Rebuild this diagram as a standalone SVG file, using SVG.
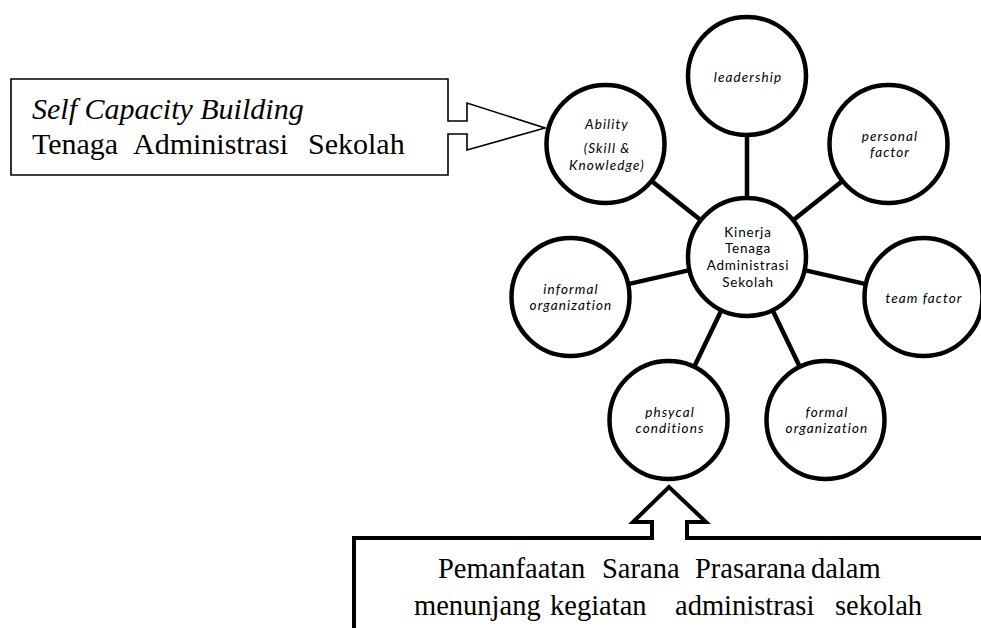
<svg xmlns="http://www.w3.org/2000/svg" width="981" height="628" viewBox="0 0 981 628">
<style>
.bg{fill:#fff}
.node circle{fill:#fff;stroke:#000;stroke-width:4.5}
.lbl{font-family:Lato,"Liberation Sans",sans-serif;font-size:13.5px;letter-spacing:1.1px;font-style:italic;text-anchor:middle;fill:#000}
.lblc{font-family:Lato,"Liberation Sans",sans-serif;font-size:13.5px;letter-spacing:0.8px;text-anchor:middle;fill:#000}
.conn line{stroke:#000;stroke-width:4.5}
.times{font-family:"Liberation Serif","Times New Roman",serif;font-size:28.5px;fill:#000}
.times2{font-family:"Liberation Serif","Times New Roman",serif;font-size:30px;fill:#000}
</style>
<rect class="bg" x="0" y="0" width="981" height="628"/>

<g id="connectors" class="conn">
<line x1="747" y1="198" x2="747" y2="135"/>
<line x1="793.1" y1="220.2" x2="842.4" y2="180.9"/>
<line x1="804.5" y1="270.1" x2="865.9" y2="284.1"/>
<line x1="772.6" y1="310.2" x2="799.9" y2="366.9"/>
<line x1="721.4" y1="310.2" x2="694.1" y2="366.9"/>
<line x1="689.5" y1="270.1" x2="628.1" y2="284.1"/>
<line x1="700.9" y1="220.2" x2="651.6" y2="180.9"/>
</g>

<g id="center" class="node">
<circle cx="747" cy="257" r="59"/>
<text class="lblc" x="748" y="237">Kinerja</text>
<text class="lblc" x="748" y="253">Tenaga</text>
<text class="lblc" x="748" y="270">Administrasi</text>
<text class="lblc" x="748" y="287">Sekolah</text>
</g>

<g id="leadership" class="node">
<circle cx="747" cy="76" r="59"/>
<text class="lbl" x="748" y="82">leadership</text>
</g>

<g id="personal" class="node">
<circle cx="888.5" cy="144" r="59"/>
<text class="lbl" x="890" y="141">personal</text>
<text class="lbl" x="890" y="157">factor</text>
</g>

<g id="team" class="node">
<circle cx="923.5" cy="297" r="59"/>
<text class="lbl" x="924" y="303">team factor</text>
</g>

<g id="formal" class="node">
<circle cx="825.5" cy="420" r="59"/>
<text class="lbl" x="827" y="417">formal</text>
<text class="lbl" x="827" y="433">organization</text>
</g>

<g id="physical" class="node">
<circle cx="668.5" cy="420" r="59"/>
<text class="lbl" x="670" y="417">phsycal</text>
<text class="lbl" x="670" y="433">conditions</text>
</g>

<g id="informal" class="node">
<circle cx="570.5" cy="297" r="59"/>
<text class="lbl" x="571" y="294">informal</text>
<text class="lbl" x="571" y="310">organization</text>
</g>

<g id="ability" class="node">
<circle cx="605.5" cy="144" r="59"/>
<text class="lbl" x="607" y="129">Ability</text>
<text class="lbl" x="607" y="153">(Skill &amp;</text>
<text class="lbl" x="607" y="170">Knowledge)</text>
</g>

<g id="self-capacity">
<path d="M448 121 V79 H11 V175 H448 V134 H467 V150 L545 128 L467 103 V121 Z" fill="#fff" stroke="#000" stroke-width="1.6" stroke-linejoin="miter"/>
<text class="times2" x="32" y="119" font-style="italic">Self Capacity Building</text>
<text class="times2" y="154"><tspan x="32">Tenaga</tspan><tspan x="133">Administrasi</tspan><tspan x="308">Sekolah</tspan></text>
</g>

<g id="sarana">
<path d="M354 640 V538 H652 V522 H633 L669 487 L706 522 H687 V538 H990" fill="#fff" stroke="#000" stroke-width="4" stroke-linejoin="miter"/>
<text class="times" y="578"><tspan x="438">Pemanfaatan</tspan><tspan x="602">Sarana</tspan><tspan x="695">Prasarana</tspan><tspan x="811">dalam</tspan></text>
<text class="times" y="615"><tspan x="414">menunjang</tspan><tspan x="550">kegiatan</tspan><tspan x="675">administrasi</tspan><tspan x="835">sekolah</tspan></text>
</g>
</svg>
